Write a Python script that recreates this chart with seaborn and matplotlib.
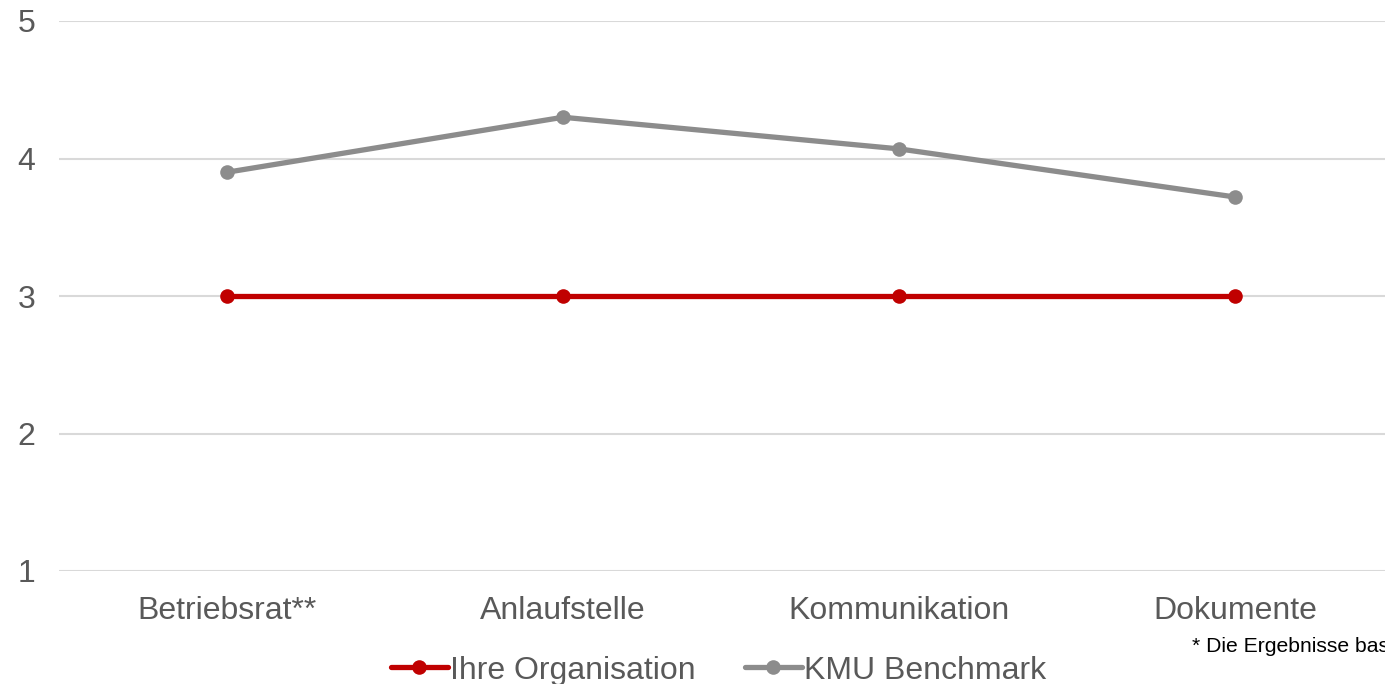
import matplotlib
matplotlib.use("Agg")
import matplotlib.pyplot as plt
import seaborn as sns
import pandas as pd

categories = ["Betriebsrat**", "Anlaufstelle", "Kommunikation", "Dokumente"]
ihre_organisation = [3.0, 3.0, 3.0, 3.0]
kmu_benchmark = [3.9, 4.3, 4.07, 3.72]
series_names = ["Ihre Organisation", "KMU Benchmark"]
y_ticks = [1, 2, 3, 4, 5]
footnote = "* Die Ergebnisse basieren auf den Angaben der befragten Organisationen"

sns.set_theme(style="white")
plt.rcParams["font.family"] = ["Liberation Sans", "DejaVu Sans"]

df = pd.DataFrame({
    "Kategorie": categories * 2,
    "Wert": ihre_organisation + kmu_benchmark,
    "Reihe": [series_names[0]] * 4 + [series_names[1]] * 4,
})
df["pos"] = df["Kategorie"].map({c: i for i, c in enumerate(categories)})

colors = {series_names[0]: "#c00000", series_names[1]: "#8c8c8c"}

fig = plt.figure(figsize=(13.85, 6.84), dpi=100)
ax = fig.add_axes([59 / 1385, 113 / 684, 1344 / 1385, 550 / 684])

# draw benchmark first so the organisation line sits on top
for name in [series_names[1], series_names[0]]:
    sub = df[df["Reihe"] == name]
    sns.lineplot(data=sub, x="pos", y="Wert", ax=ax, color=colors[name],
                 linewidth=3.8, marker="o", markersize=10.5,
                 markeredgewidth=0, label=name, zorder=3)

ax.set_xlim(-0.5, 3.5)
ax.set_ylim(1, 5)
ax.set_yticks(y_ticks)
ax.set_xticks(range(len(categories)))
ax.set_xticklabels(categories)
ax.set_xlabel("")
ax.set_ylabel("")
ax.yaxis.grid(True, color="#d9d9d9", linewidth=1.5, zorder=0)
ax.xaxis.grid(False)
for s in ax.spines.values():
    s.set_visible(False)
ax.tick_params(axis="both", length=0, labelsize=23, colors="#595959")
ax.tick_params(axis="x", pad=18)
ax.tick_params(axis="y", pad=17)

handles, labels = ax.get_legend_handles_labels()
order = [labels.index(n) for n in series_names]
leg = ax.legend([handles[i] for i in order], [labels[i] for i in order],
                loc="center", bbox_to_anchor=(0.4905, -0.181), ncol=2,
                frameon=False, fontsize=23, handlelength=1.8,
                handletextpad=0.05, columnspacing=1.55, borderpad=0)
for t in leg.get_texts():
    t.set_color("#595959")

fig.text(1192 / 1385, 1 - 647 / 684, footnote, fontsize=15.2, color="#000000",
         ha="left", va="center")

fig.savefig("out.png", dpi=100)
